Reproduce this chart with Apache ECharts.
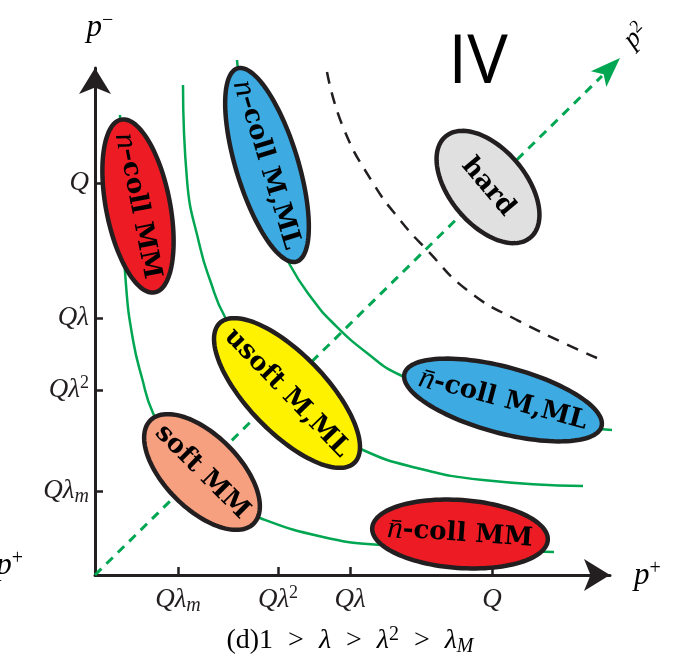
<!DOCTYPE html>
<html><head><meta charset="utf-8">
<script src="https://cdn.jsdelivr.net/npm/echarts@6/dist/echarts.min.js"></script>
<style>html,body{margin:0;padding:0;background:#fff}#c{width:687px;height:658px}</style>
</head><body><div id="c"></div>
<script>
// ---- data (units: light-cone momentum scale, origin at p+=p-=0) ----
const xTickValues = [83, 183, 255, 397];
const xTickLabels = ['{i|Qλ}{sub|m}', '{i|Qλ}{sup|2}', '{i|Qλ}', '{i|Q}'];
const yTickValues = [392, 257, 185, 84];
const yTickLabels = ['{i|Q}', '{i|Qλ}', '{i|Qλ}{sup|2}', '{i|Qλ}{sub|m}'];

const curveInner = [[25,460],[27,375],[31,290],[38,235],[47,197],[58,162],[85,113],[120,78],[165,57],[228,38],[285,30],[365,26],[459,23]];
const curveMiddle = [[88,490],[92,395],[105,328],[115,295],[130,258],[165,205],[215,155],[268,125],[322,107],[388,95],[488,89]];
const curveOuter = [[142,515],[155,425],[175,355],[195,310],[218,275],[238,252],[272,222],[305,200],[385,170],[455,153],[517,145]];
const hardBoundary = [[232,503],[248,448],[278,392],[305,355],[332,325],[372,285],[422,255],[502,217]];
const diagonal = [[0,0],[507,499]];
const diagonalTip = [[525,517]];

const regionLabels = [
  '{it|n}{b|–coll MM}',
  '{it|n}{b|–coll M,ML}',
  '{b|hard}',
  '{b|usoft M,ML}',
  '{b|soft MM}',
  '{it|n\u0304}{b|-coll M,ML}',
  '{it|n\u0304}{b|-coll MM}'
];
const regionCenters = [[43,369],[172,410],[393,388],[192,182],[107,103],[408,175],[365,41]];
const regionRadii = [[88,32],[101,31],[66,38],[97,39],[73,37],[102,33],[88,34]];
const regionTilt = [79,73,50,46,45,15,4];
const regionColors = ['#ed1c24','#3daae2','#e0e0e0','#fff200','#f7a07f','#3daae2','#ed1c24'];

const INK = '#231f20', GREEN = '#00a651';
const serif = 'Liberation Serif';
const bserif = 'DejaVu Serif';

const tickRich = {
  i: {fontFamily: serif, fontStyle: 'italic', fontSize: 27, color: INK, lineHeight: 32},
  sub: {fontFamily: serif, fontStyle: 'italic', fontSize: 20, color: INK, verticalAlign: 'bottom', lineHeight: 20},
  sup: {fontFamily: serif, fontSize: 18, color: INK, verticalAlign: 'top', lineHeight: 18}
};

const chart = echarts.init(document.getElementById('c'), null, {renderer: 'canvas'});

function curveSeries(data, color, type, width) {
  return {
    type: 'line', data: data, smooth: 0.5, showSymbol: false, symbol: 'none', clip: false,
    lineStyle: {color: color, width: width, type: type}, z: 2, silent: true, animation: false
  };
}

chart.setOption({
  animation: false,
  grid: {left: 95, top: 68, width: 515, height: 507},
  xAxis: {
    type: 'value', min: 0, max: 515, splitLine: {show: false},
    axisLine: {show: true, symbol: ['none', 'arrow'], symbolSize: [24, 26], lineStyle: {color: INK, width: 3}},
    axisTick: {show: true, inside: true, length: 8, customValues: xTickValues, lineStyle: {color: INK, width: 2.5}},
    axisLabel: {customValues: xTickValues, margin: 9, formatter: v => xTickLabels[xTickValues.indexOf(v)], rich: tickRich}
  },
  yAxis: {
    type: 'value', min: 0, max: 507, splitLine: {show: false},
    axisLine: {show: true, symbol: ['none', 'arrow'], symbolSize: [24, 26], lineStyle: {color: INK, width: 3}},
    axisTick: {show: true, inside: true, length: 8, customValues: yTickValues, lineStyle: {color: INK, width: 2.5}},
    axisLabel: {customValues: yTickValues, margin: 6, formatter: v => yTickLabels[yTickValues.indexOf(v)], rich: tickRich}
  },
  series: [
    curveSeries(curveInner, GREEN, 'solid', 2.5),
    curveSeries(curveMiddle, GREEN, 'solid', 2.5),
    curveSeries(curveOuter, GREEN, 'solid', 2.5),
    curveSeries(hardBoundary, INK, [12, 9], 2.5),
    {
      type: 'line', data: diagonal, showSymbol: false, symbol: 'none', clip: false, z: 2,
      lineStyle: {color: GREEN, width: 3, type: [9, 7]}
    },
    {
      type: 'custom', data: diagonalTip, clip: false, z: 2,
      renderItem: function (params, api) {
        const tip = api.coord([api.value(0), api.value(1)]);
        const o = api.coord([0, 0]);
        let ux = tip[0] - o[0], uy = tip[1] - o[1];
        const L = Math.hypot(ux, uy); ux /= L; uy /= L;
        const nx = -uy, ny = ux;
        const pts = [
          tip,
          [tip[0] - 30 * ux + 11 * nx, tip[1] - 30 * uy + 11 * ny],
          [tip[0] - 23 * ux, tip[1] - 23 * uy],
          [tip[0] - 30 * ux - 11 * nx, tip[1] - 30 * uy - 11 * ny]
        ];
        return {type: 'polygon', shape: {points: pts}, style: {fill: GREEN}};
      }
    },
    {
      type: 'custom', clip: false, z: 5,
      data: regionCenters.map((c, i) => [c[0], c[1], regionRadii[i][0], regionRadii[i][1], regionTilt[i], i]),
      renderItem: function (params, api) {
        const c = api.coord([api.value(0), api.value(1)]);
        const s = api.size([api.value(2), api.value(3)]);
        const a = api.value(4) * Math.PI / 180;
        const idx = api.value(5);
        const pts = [];
        for (let k = 0; k < 120; k++) {
          const t = k / 120 * 2 * Math.PI;
          const x = s[0] * Math.cos(t), y = s[1] * Math.sin(t);
          pts.push([c[0] + x * Math.cos(a) - y * Math.sin(a), c[1] + x * Math.sin(a) + y * Math.cos(a)]);
        }
        return {
          type: 'group',
          children: [
            {type: 'polygon', shape: {points: pts}, style: {fill: regionColors[idx], stroke: INK, lineWidth: 4.5}},
            {
              type: 'text', x: c[0], y: c[1], rotation: -a,
              style: {
                text: regionLabels[idx], align: 'center', verticalAlign: 'middle',
                rich: {
                  it: {fontFamily: serif, fontStyle: 'italic', fontSize: 31, color: INK},
                  b: {fontFamily: bserif, fontWeight: 'bold', fontSize: 26, color: INK}
                }
              }
            }
          ]
        };
      }
    }
  ],
  graphic: [
    {type: 'text', x: 100, y: 28, z: 10, style: {text: '{p|p}{s|−}', align: 'center', verticalAlign: 'middle',
      rich: {p: {fontFamily: serif, fontStyle: 'italic', fontSize: 31, color: INK, lineHeight: 34}, s: {fontFamily: serif, fontSize: 20, color: INK, verticalAlign: 'top', lineHeight: 20}}}},
    {type: 'text', x: 634, y: 576, z: 10, style: {text: '{p|p}{s|+}', align: 'left', verticalAlign: 'middle',
      rich: {p: {fontFamily: serif, fontStyle: 'italic', fontSize: 31, color: INK, lineHeight: 34}, s: {fontFamily: serif, fontSize: 20, color: INK, verticalAlign: 'top', lineHeight: 20}}}},
    {type: 'text', x: 23, y: 566, z: 10, style: {text: '{p|p}{s|+}', align: 'right', verticalAlign: 'middle',
      rich: {p: {fontFamily: serif, fontStyle: 'italic', fontSize: 31, color: INK, lineHeight: 34}, s: {fontFamily: serif, fontSize: 20, color: INK, verticalAlign: 'top', lineHeight: 20}}}},
    {type: 'text', x: 636, y: 36, rotation: Math.PI / 4, z: 10, style: {text: '{p|p}{s|2}', align: 'center', verticalAlign: 'middle',
      rich: {p: {fontFamily: serif, fontStyle: 'italic', fontSize: 27, color: GREEN, lineHeight: 30}, s: {fontFamily: serif, fontSize: 18, color: GREEN, verticalAlign: 'top', lineHeight: 18}}}},
    {type: 'text', x: 478, y: 64, z: 10, style: {text: 'IV', align: 'center', verticalAlign: 'middle', fontFamily: 'Open Sans', fontSize: 68, fill: '#000'}},
    {type: 'text', x: 350, y: 641, z: 10, style: {
      text: '{r|(d)1}{g|>}{i|λ}{g|>}{i|λ}{sup|2}{g|>}{i|λ}{sub|M}', align: 'center', verticalAlign: 'middle',
      rich: {
        r: {fontFamily: serif, fontSize: 28, color: INK, lineHeight: 32},
        g: {fontFamily: serif, fontSize: 28, color: INK, lineHeight: 32, padding: [0, 15, 0, 15]},
        i: {fontFamily: serif, fontStyle: 'italic', fontSize: 28, color: INK, lineHeight: 32},
        sup: {fontFamily: serif, fontSize: 20, color: INK, verticalAlign: 'top', lineHeight: 20},
        sub: {fontFamily: serif, fontStyle: 'italic', fontSize: 20, color: INK, verticalAlign: 'bottom', lineHeight: 20}
      }}}
  ]
});
</script></body></html>
